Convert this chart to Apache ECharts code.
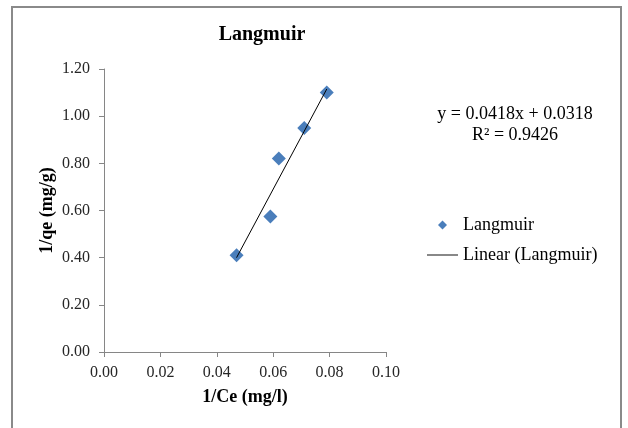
<!DOCTYPE html>
<html>
<head>
<meta charset="utf-8">
<script src="https://cdn.jsdelivr.net/npm/echarts@6/dist/echarts.min.js"></script>
<style>
  html, body { margin: 0; padding: 0; background: #fff; }
  #chart { width: 628px; height: 428px; }
</style>
</head>
<body>
<div id="chart"></div>
<script>
// points
var ceInv = [0.047, 0.059, 0.062, 0.071, 0.079];
var qeInv = [0.41, 0.575, 0.82, 0.95, 1.10];
// trendline ends as drawn
var trendX = [0.047, 0.079];
var trendY = [0.40, 1.115];
var equationLines = ['y = 0.0418x + 0.0318', 'R² = 0.9426'];

var serif = '"Liberation Serif", "Times New Roman", serif';

var chart = echarts.init(document.getElementById('chart'));

var option = {
  animation: false,
  backgroundColor: '#fff',
  title: {
    text: 'Langmuir',
    left: 262,
    top: 25,
    textAlign: 'center',
    padding: 0,
    textStyle: { fontFamily: serif, fontSize: 20, fontWeight: 'bold', color: '#000' }
  },
  grid: { left: 104, right: 242, top: 69, bottom: 76 },
  xAxis: {
    type: 'value',
    min: 0, max: 0.1, interval: 0.02,
    name: '1/Ce (mg/l)',
    nameLocation: 'middle',
    nameGap: 36,
    nameTextStyle: { fontFamily: serif, fontSize: 18, fontWeight: 'bold', color: '#000' },
    axisLine: { show: true, lineStyle: { color: '#868686' } },
    axisTick: { show: true, length: 5, lineStyle: { color: '#868686' } },
    splitLine: { show: false },
    axisLabel: {
      fontFamily: serif, fontSize: 16, color: '#262626', margin: 13,
      formatter: function (v) { return v.toFixed(2); }
    }
  },
  yAxis: {
    type: 'value',
    min: 0, max: 1.2, interval: 0.2,
    name: '1/qe (mg/g)',
    nameLocation: 'middle',
    nameGap: 48,
    nameTextStyle: { fontFamily: serif, fontSize: 18, fontWeight: 'bold', color: '#000' },
    axisLine: { show: true, lineStyle: { color: '#868686' } },
    axisTick: { show: true, length: 5, lineStyle: { color: '#868686' } },
    splitLine: { show: false },
    axisLabel: {
      fontFamily: serif, fontSize: 16, color: '#262626', margin: 14,
      formatter: function (v) { return v.toFixed(2); }
    }
  },
  legend: {
    orient: 'vertical',
    left: 427,
    top: 216,
    padding: 0,
    itemWidth: 31,
    itemHeight: 9,
    itemGap: 12,
    symbolKeepAspect: true,
    textStyle: { fontFamily: serif, fontSize: 18, color: '#000' },
    data: [
      { name: 'Langmuir', icon: 'path://M0,-1L1,0L0,1L-1,0Z' },
      { name: 'Linear (Langmuir)', icon: 'path://M0,0L33,0L33,1L0,1Z', itemStyle: { color: '#000' } }
    ]
  },
  graphic: [
    {
      type: 'rect',
      shape: { x: 12, y: 7, width: 609, height: 440 },
      style: { fill: 'none', stroke: '#8a8a8a', lineWidth: 2 },
      silent: true
    },
    {
      type: 'text',
      x: 515, y: 104,
      style: {
        text: equationLines.join('\n'),
        fontFamily: serif, fontSize: 18, fill: '#000',
        align: 'center', verticalAlign: 'top', lineHeight: 21
      }
    }
  ],
  series: [
    {
      name: 'Langmuir',
      type: 'scatter',
      symbol: 'diamond',
      symbolSize: 14,
      itemStyle: { color: '#4a7ebb', opacity: 1 },
      data: ceInv.map(function (x, i) { return [x, qeInv[i]]; }),
      z: 2
    },
    {
      name: 'Linear (Langmuir)',
      type: 'line',
      symbol: 'none',
      lineStyle: { color: '#000', width: 1 },
      itemStyle: { color: '#000' },
      data: trendX.map(function (x, i) { return [x, trendY[i]]; }),
      z: 3
    }
  ]
};

chart.setOption(option);
</script>
</body>
</html>
